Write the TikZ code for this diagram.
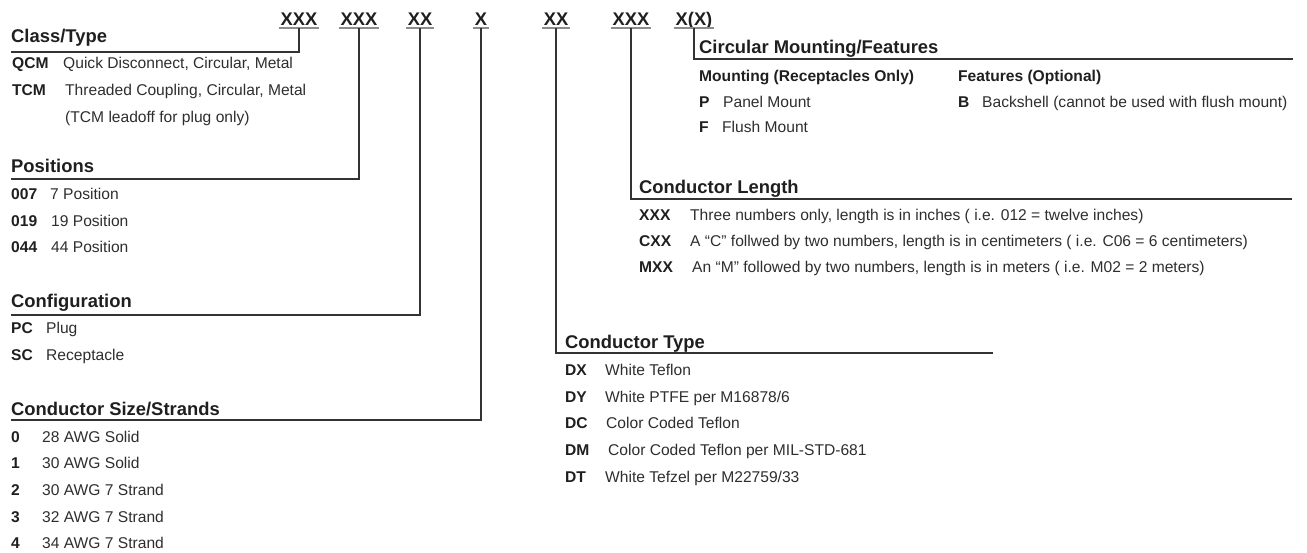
\documentclass[tikz,border=0pt]{standalone}
\usepackage{fontspec}
\setmainfont{Liberation Sans}

\begin{document}
\begin{tikzpicture}[x=1pt,y=-1pt,
  code/.style={font=\fontsize{18.3}{20}\selectfont\bfseries,text=black!88,anchor=base,inner xsep=1.5pt,inner ysep=0pt,text height=13pt,text depth=3pt},
  uline/.style={draw=black!45,line width=1.6pt},
  link/.style={draw=black!80,line width=1.3pt},
  head/.style={font=\fontsize{18.4}{20}\selectfont\bfseries,text=black!88,anchor=base west,inner sep=0pt},
  sub/.style={font=\fontsize{15.6}{18}\selectfont\bfseries,text=black!88,anchor=base west,inner sep=0pt},
  lbl/.style={font=\fontsize{15.6}{18}\selectfont\bfseries,text=black!88,anchor=base west,inner sep=0pt},
  desc/.style={font=\fontsize{15.6}{18}\selectfont,text=black!82,anchor=base west,inner sep=0pt}]
\useasboundingbox (0,0) rectangle (1307,552);
\node[code] (c1) at (299,25) {XXX};
\node[code] (c2) at (359,25) {XXX};
\node[code] (c3) at (420,25) {XX};
\node[code] (c4) at (481,25) {X};
\node[code] (c5) at (556,25) {XX};
\node[code] (c6) at (631,25) {XXX};
\node[code] (c7) at (694,25) {X(X)};
\draw[uline] (c1.south west) -- (c1.south east);
\draw[uline] (c2.south west) -- (c2.south east);
\draw[uline] (c3.south west) -- (c3.south east);
\draw[uline] (c4.south west) -- (c4.south east);
\draw[uline] (c5.south west) -- (c5.south east);
\draw[uline] (c6.south west) -- (c6.south east);
\draw[uline] (c7.south west) -- (c7.south east);
\coordinate (lclass) at (11,52);
\coordinate (lpos) at (11,179);
\coordinate (lconf) at (11,315);
\coordinate (lsize) at (11,420);
\coordinate (ltype) at (993,353);
\coordinate (llen) at (1292,199);
\coordinate (lcirc) at (1293,59);
\draw[link] (c1.south) |- (lclass);
\draw[link] (c2.south) |- (lpos);
\draw[link] (c3.south) |- (lconf);
\draw[link] (c4.south) |- (lsize);
\draw[link] (c5.south) |- (ltype);
\draw[link] (c6.south) |- (llen);
\draw[link] (c7.south) |- (lcirc);
\node[head] (hclass) at (11,42) {Class/Type};
\node[lbl] (qcm) at (12,68) {QCM};
\node[desc] (qcmd) at (63,68) {Quick Disconnect, Circular, Metal};
\node[lbl] (tcm) at (12,95) {TCM};
\node[desc] (tcmd) at (65,95) {Threaded Coupling, Circular, Metal};
\node[desc] (tcmn) at (65,122) {(TCM leadoff for plug only)};
\node[head] (hpos) at (11,172) {Positions};
\node[lbl] (p007) at (11,199) {007};
\node[desc] (p007d) at (50,199) {7 Position};
\node[lbl] (p019) at (11,226) {019};
\node[desc] (p019d) at (51,226) {19 Position};
\node[lbl] (p044) at (11,252) {044};
\node[desc] (p044d) at (51,252) {44 Position};
\node[head] (hconf) at (11,307) {Configuration};
\node[lbl] (pc) at (11,333) {PC};
\node[desc] (pcd) at (46,333) {Plug};
\node[lbl] (sc) at (11,360) {SC};
\node[desc] (scd) at (46,360) {Receptacle};
\node[head] (hsize) at (11,415) {Conductor Size/Strands};
\node[lbl] (s0) at (11,442) {0};
\node[desc] (s0d) at (42,442) {28 AWG Solid};
\node[lbl] (s1) at (11,468) {1};
\node[desc] (s1d) at (42,468) {30 AWG Solid};
\node[lbl] (s2) at (11,495) {2};
\node[desc] (s2d) at (42,495) {30 AWG 7 Strand};
\node[lbl] (s3) at (11,522) {3};
\node[desc] (s3d) at (42,522) {32 AWG 7 Strand};
\node[lbl] (s4) at (11,548) {4};
\node[desc] (s4d) at (42,548) {34 AWG 7 Strand};
\node[head] (htype) at (565,348) {Conductor Type};
\node[lbl] (dx) at (565,375) {DX};
\node[desc] (dxd) at (605,375) {White Teflon};
\node[lbl] (dy) at (565,402) {DY};
\node[desc] (dyd) at (605,402) {White PTFE per M16878/6};
\node[lbl] (dc) at (565,428) {DC};
\node[desc] (dcd) at (606,428) {Color Coded Teflon};
\node[lbl] (dm) at (565,455) {DM};
\node[desc] (dmd) at (608,455) {Color Coded Teflon per MIL-STD-681};
\node[lbl] (dt) at (565,482) {DT};
\node[desc] (dtd) at (605,482) {White Tefzel per M22759/33};
\node[head] (hlen) at (639,193) {Conductor Length};
\node[lbl] (lxxx) at (639,220) {XXX};
\node[desc] (lxxxd) at (690,220) {Three numbers only, length is in inches ( i.e. 012 = twelve inches)};
\node[lbl] (lcxx) at (639,246) {CXX};
\node[desc] (lcxxd) at (690,246) {A “C” follwed by two numbers, length is in centimeters ( i.e. C06 = 6 centimeters)};
\node[lbl] (lmxx) at (639,272) {MXX};
\node[desc] (lmxxd) at (692,272) {An “M” followed by two numbers, length is in meters ( i.e. M02 = 2 meters)};
\node[head] (hcirc) at (699,53) {Circular Mounting/Features};
\node[sub] (hmount) at (699,81) {Mounting (Receptacles Only)};
\node[sub] (hfeat) at (958,81) {Features (Optional)};
\node[lbl] (mp) at (699,107) {P};
\node[desc] (mpd) at (723,107) {Panel Mount};
\node[lbl] (mf) at (699,132) {F};
\node[desc] (mfd) at (722,132) {Flush Mount};
\node[lbl] (fb) at (958,107) {B};
\node[desc] (fbd) at (982,107) {Backshell (cannot be used with flush mount)};
\end{tikzpicture}
\end{document}
